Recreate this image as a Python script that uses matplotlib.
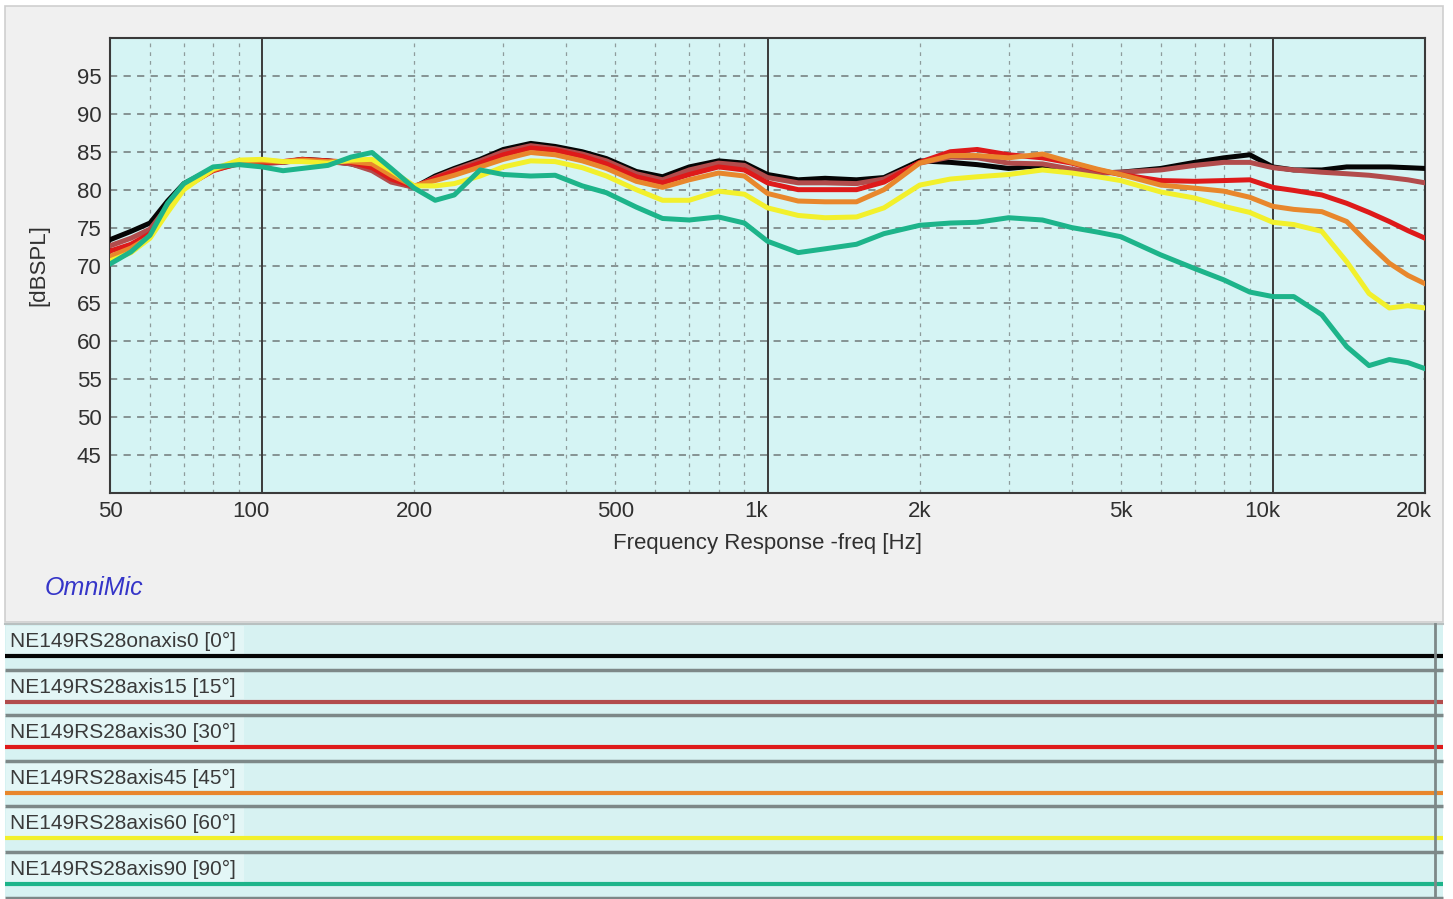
import matplotlib.pyplot as plt
from matplotlib.patches import Rectangle
from matplotlib.transforms import ScaledTranslation

plt.rcParams['font.family'] = ['Liberation Sans', 'DejaVu Sans']

# frequency points [Hz]
freq = [50, 55, 60, 65, 70, 80, 90, 100, 110, 120, 135, 150, 165, 180, 200,
        220, 240, 270, 300, 340, 380, 430, 480, 550, 620, 700, 800, 900, 1000,
        1150, 1300, 1500, 1700, 2000, 2300, 2600, 3000, 3500, 4000, 4500, 5000,
        6000, 7000, 8000, 9000, 10000, 11000, 12500, 14000, 15500, 17000,
        18500, 20000]

# SPL [dB] per measurement angle
spl_0 = [73.4, 74.5, 75.6, 78.5, 80.8, 82.8, 83.5, 83.5, 83.6, 84.0, 83.8, 83.4,
         82.7, 81.2, 80.3, 81.8, 82.8, 84.0, 85.3, 86.1, 85.7, 85.0, 84.1, 82.4,
         81.7, 83.0, 83.8, 83.5, 82.0, 81.3, 81.5, 81.3, 81.6, 83.8, 83.6, 83.3,
         82.8, 83.2, 82.6, 82.2, 82.3, 82.8, 83.6, 84.2, 84.6, 83.0, 82.6, 82.6,
         83.0, 83.0, 83.0, 82.9, 82.8]
spl_15 = [72.6, 73.6, 74.8, 77.8, 80.5, 82.6, 83.4, 83.5, 83.6, 83.9, 83.7, 83.4,
          82.5, 81.0, 80.3, 81.6, 82.6, 83.8, 85.0, 85.8, 85.4, 84.7, 83.8, 82.1,
          81.3, 82.6, 83.5, 83.2, 81.6, 80.9, 80.9, 80.8, 81.4, 83.5, 84.3, 84.2,
          83.5, 83.4, 82.7, 82.2, 82.3, 82.6, 83.2, 83.6, 83.6, 82.9, 82.6, 82.3,
          82.1, 81.9, 81.6, 81.3, 80.9]
spl_30 = [71.9, 72.8, 74.2, 77.5, 80.3, 82.5, 83.5, 83.6, 83.7, 84.0, 83.8, 83.6,
          82.9, 81.4, 80.4, 81.5, 82.4, 83.5, 84.6, 85.5, 85.2, 84.4, 83.4, 81.7,
          80.9, 82.0, 83.0, 82.6, 80.9, 80.0, 80.0, 80.0, 81.0, 83.6, 85.0, 85.3,
          84.6, 84.2, 83.5, 82.6, 82.0, 81.2, 81.1, 81.2, 81.3, 80.3, 79.9, 79.3,
          78.2, 77.0, 75.8, 74.6, 73.6]
spl_45 = [71.2, 72.3, 73.8, 77.2, 80.2, 82.6, 83.7, 83.8, 83.7, 83.9, 83.7, 83.7,
          83.4, 81.9, 80.5, 81.2, 81.9, 83.0, 84.0, 84.9, 84.6, 83.8, 82.8, 81.1,
          80.3, 81.3, 82.2, 81.8, 79.5, 78.5, 78.4, 78.4, 80.0, 83.5, 84.5, 84.5,
          84.2, 84.7, 83.6, 82.7, 82.0, 80.6, 80.2, 79.8, 79.0, 77.8, 77.4, 77.1,
          75.8, 72.8, 70.3, 68.7, 67.6]
spl_60 = [70.6, 71.7, 73.6, 77.0, 80.0, 82.7, 83.9, 84.0, 83.7, 83.7, 83.5, 83.9,
          84.0, 82.5, 80.5, 80.5, 80.8, 81.8, 83.0, 83.8, 83.7, 82.9, 81.8, 80.0,
          78.6, 78.6, 79.8, 79.4, 77.6, 76.6, 76.3, 76.4, 77.6, 80.6, 81.4, 81.7,
          82.0, 82.6, 82.2, 81.7, 81.2, 79.7, 78.9, 77.8, 77.0, 75.7, 75.4, 74.5,
          70.5, 66.3, 64.4, 64.7, 64.4]
spl_90 = [70.2, 71.8, 74.0, 78.2, 80.8, 83.0, 83.3, 83.0, 82.5, 82.8, 83.2, 84.3,
          84.9, 82.8, 80.2, 78.6, 79.3, 82.6, 82.0, 81.8, 81.9, 80.5, 79.6, 77.7,
          76.2, 76.0, 76.4, 75.6, 73.2, 71.7, 72.2, 72.8, 74.2, 75.3, 75.6, 75.7,
          76.3, 76.0, 75.0, 74.4, 73.8, 71.4, 69.6, 68.1, 66.5, 65.9, 65.9, 63.5,
          59.3, 56.8, 57.6, 57.2, 56.4]

names = ['NE149RS28onaxis0 [0°]', 'NE149RS28axis15 [15°]', 'NE149RS28axis30 [30°]',
         'NE149RS28axis45 [45°]', 'NE149RS28axis60 [60°]', 'NE149RS28axis90 [90°]']
curves = [spl_0, spl_15, spl_30, spl_45, spl_60, spl_90]
colors = ['#050505', '#b24c4c', '#de1a1a', '#e8872c', '#f2f02c', '#1db48a']

xticks = [50, 100, 200, 500, 1000, 2000, 5000, 10000, 20000]
xticklabels = ['50', '100', '200', '500', '1k', '2k', '5k', '10k', '20k']
yticks = [45, 50, 55, 60, 65, 70, 75, 80, 85, 90, 95]

W, H = 1453, 899
fig = plt.figure(figsize=(W / 100, H / 100), dpi=100)
fig.patch.set_facecolor('white')

# canvas in pixel units for panels / legend strip
bg = fig.add_axes([0, 0, 1, 1])
bg.set_xlim(0, W)
bg.set_ylim(H, 0)
bg.axis('off')
bg.add_patch(Rectangle((5, 6), 1438, 616, facecolor='#f0f0f0', edgecolor='#cfcfcf', lw=1.2))
bg.text(45, 588, 'OmniMic', style='italic', color='#3535c8', fontsize=18, va='center')

# legend strip, one row per curve
row_top = 623.5
row_h = 45.6
bg.plot([5, 1443], [row_top, row_top], color='#b8c0c0', lw=1.5)
for i, (name, c) in enumerate(zip(names, colors)):
    y0 = row_top + i * row_h
    bg.add_patch(Rectangle((5, y0 + 1), 1438, row_h - 1, facecolor='#d7f2f2', edgecolor='none'))
    bg.add_patch(Rectangle((6, y0 + 2), 238, 28, facecolor='#e3f6f6', edgecolor='none'))
    bg.text(10, y0 + 18, name, fontsize=15, va='center', ha='left', color='#3a3a3a')
    bg.plot([5, 1443], [y0 + 32.5, y0 + 32.5], color=c, lw=3, solid_capstyle='butt')
    bg.plot([5, 1443], [y0 + 46, y0 + 46], color='#7d8888', lw=2.5, solid_capstyle='butt')
bg.plot([1435, 1435], [row_top, H], color='#7d8888', lw=2)

# frequency response plot
ax = fig.add_axes([110 / W, 1 - 493 / H, 1315 / W, 455 / H])
ax.set_facecolor('#d5f4f4')
ax.set_xscale('log')
ax.set_xlim(50, 20000)
ax.set_ylim(40, 100)

for y in yticks:
    ax.axhline(y, color='#7f8b8b', lw=1.3, ls=(0, (4, 3.5)), zorder=1)
for dec in [10, 100, 1000, 10000]:
    for m in range(2, 10):
        f = dec * m
        if 50 < f < 20000:
            ax.axvline(f, color='#8e9c9c', lw=0.9, ls=(0, (3, 4)), zorder=1)
for f in [100, 1000, 10000]:
    ax.axvline(f, color='#3a3a3a', lw=1.4, zorder=1)

for spl, c in zip(curves, colors):
    ax.plot(freq, spl, color=c, lw=3.6, zorder=3, solid_joinstyle='round')

ax.set_xticks(xticks)
ax.set_xticklabels(xticklabels)
ax.minorticks_off()
ax.set_yticks(yticks)
ax.tick_params(length=0, labelsize=16, colors='#303030', pad=6)
ax.set_xlabel('Frequency Response -freq [Hz]', fontsize=16, color='#303030', labelpad=8)
ax.set_ylabel('[dBSPL]', fontsize=16, color='#303030', labelpad=20)

shift = ScaledTranslation(-11 / 100, 0, fig.dpi_scale_trans)
for lbl in ax.get_xticklabels():
    if lbl.get_text() in ('100', '1k', '10k', '20k'):
        lbl.set_transform(lbl.get_transform() + shift)

for s in ax.spines.values():
    s.set_color('#3a3a3a')
    s.set_linewidth(1.5)

fig.savefig('out.png', dpi=100, facecolor=fig.get_facecolor())
